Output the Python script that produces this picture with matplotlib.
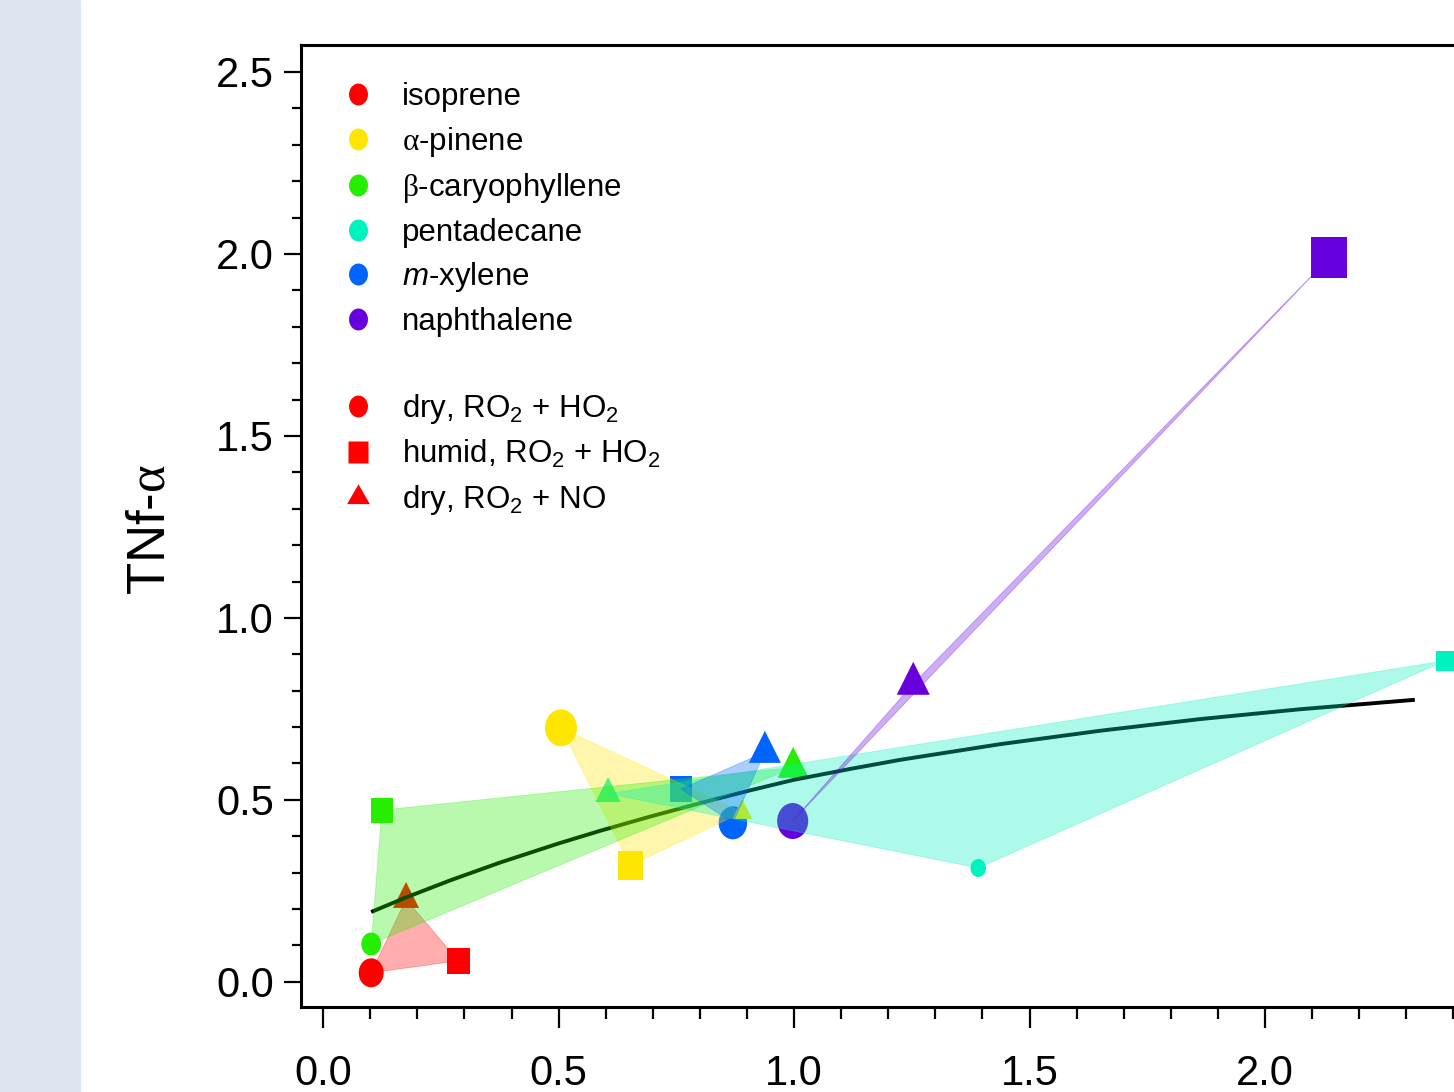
import matplotlib
matplotlib.use('Agg')
import matplotlib.pyplot as plt
import matplotlib.ticker as mticker
import matplotlib.font_manager as fm
from matplotlib.markers import MarkerStyle
from matplotlib.path import Path
from matplotlib.lines import Line2D
from matplotlib.patches import Polygon, Rectangle

# compounds and their colours
compounds = ['isoprene', r'$\mathcal{\alpha}$-pinene', r'$\mathcal{\beta}$-caryophyllene',
             'pentadecane', r'$\mathit{m}$-xylene', 'naphthalene']
colors = ['#ff0000', '#ffe600', '#26ee00', '#00f2be', '#0064ff', '#6600dd']
conditions = [r'dry, RO$_2$ + HO$_2$', r'humid, RO$_2$ + HO$_2$', r'dry, RO$_2$ + NO']

# dry, RO2 + HO2 (circles)
x_dry_ho2 = [0.102, 0.505, 0.102, 1.391, 0.870, 0.997]
y_dry_ho2 = [0.025, 0.698, 0.104, 0.313, 0.437, 0.442]
# humid, RO2 + HO2 (squares)
x_hum_ho2 = [0.287, 0.652, 0.125, 2.382, 0.760, 2.136]
y_hum_ho2 = [0.058, 0.319, 0.472, 0.882, 0.530, 1.989]
# dry, RO2 + NO (triangles)
x_dry_no = [0.176, 0.890, 0.998, 0.605, 0.938, 1.253]
y_dry_no = [0.227, 0.466, 0.589, 0.517, 0.631, 0.819]

# fitted curve
fit_x = [0.102, 0.176, 0.270, 0.376, 0.499, 0.588, 0.694, 0.800, 0.906, 0.999,
         1.119, 1.225, 1.437, 1.650, 1.862, 2.074, 2.318]
fit_y = [0.192, 0.232, 0.279, 0.328, 0.380, 0.415, 0.454, 0.491, 0.526, 0.555,
         0.585, 0.610, 0.653, 0.690, 0.722, 0.749, 0.775]

# marker heights (px) per point
h_dry_ho2 = [29, 37, 23, 18, 33, 36]
h_hum_ho2 = [26, 29, 25, 20, 26, 41]
h_dry_no = [26, 20, 31, 25, 32, 33]

names = {f.name for f in fm.fontManager.ttflist}
narrow = 'Liberation Sans Narrow' in names
base = 'Liberation Sans Narrow' if narrow else 'Liberation Sans'
tick_fs = 33 if narrow else 30
leg_fs = 24 if narrow else 22.5

plt.rcParams['font.family'] = [base, 'Liberation Sans', 'DejaVu Sans']
plt.rcParams['mathtext.fontset'] = 'custom'
plt.rcParams['mathtext.rm'] = base
plt.rcParams['mathtext.it'] = base + ':italic'
plt.rcParams['mathtext.cal'] = 'Liberation Serif'


def tall(m, k=1.16):
    ms = MarkerStyle(m)
    p = ms.get_path().transformed(ms.get_transform())
    return MarkerStyle(Path(p.vertices * [1, k], p.codes))


def tri(w=1.0):
    # triangle centred on its centroid
    verts = [(0, 2 / 3), (-w / 2, -1 / 3), (w / 2, -1 / 3), (0, 2 / 3)]
    codes = [Path.MOVETO, Path.LINETO, Path.LINETO, Path.CLOSEPOLY]
    return MarkerStyle(Path(verts, codes))


def sz(h, f=1.0):
    return [(v * 0.72 * f) ** 2 for v in h]


fig = plt.figure(figsize=(14.54, 10.92), dpi=100)
fig.add_artist(Rectangle((0, 0), 80 / 1454, 1, transform=fig.transFigure,
                         color='#dce6f1', zorder=0))
ax = fig.add_axes([301 / 1454, 85 / 1092, 1176 / 1454, 962 / 1092])

ax.scatter(x_hum_ho2, y_hum_ho2, s=sz(h_hum_ho2), c=colors, marker=tall('s'),
           linewidths=0, zorder=2.0)
ax.scatter(x_dry_ho2, y_dry_ho2, s=sz(h_dry_ho2), c=colors, marker=tall('o'),
           linewidths=0, zorder=2.1)
ax.scatter(x_dry_no, y_dry_no, s=sz(h_dry_no, 1 / 0.75), c=colors, marker=tri(),
           linewidths=0, zorder=2.2)

ax.plot(fit_x, fit_y, color='black', lw=2.8, zorder=2.5, solid_capstyle='butt')

for i, c in enumerate(colors):
    pts = [(x_dry_ho2[i], y_dry_ho2[i]), (x_hum_ho2[i], y_hum_ho2[i]),
           (x_dry_no[i], y_dry_no[i])]
    ax.add_patch(Polygon(pts, closed=True, fc=c, ec=c, lw=0.6, alpha=0.32, zorder=3))

ax.set_xlim(-0.047, 2.45)
ax.set_ylim(-0.069, 2.574)
ax.xaxis.set_major_locator(mticker.MultipleLocator(0.5))
ax.xaxis.set_minor_locator(mticker.MultipleLocator(0.1))
ax.yaxis.set_major_locator(mticker.MultipleLocator(0.5))
ax.yaxis.set_minor_locator(mticker.MultipleLocator(0.1))
ax.xaxis.set_major_formatter(mticker.FormatStrFormatter('%.1f'))
ax.yaxis.set_major_formatter(mticker.FormatStrFormatter('%.1f'))

for s in ax.spines.values():
    s.set_linewidth(2.2)
ax.tick_params(axis='both', which='both', direction='out', width=1.6, labelsize=tick_fs)
ax.tick_params(axis='y', which='major', length=12.5, pad=7)
ax.tick_params(axis='y', which='minor', length=6.5)
ax.tick_params(axis='x', which='major', length=15, pad=19)
ax.tick_params(axis='x', which='minor', length=8.5)

ax.set_ylabel(r'TNf-$\mathcal{\alpha}$', fontsize=38, family='Liberation Sans')
ax.yaxis.set_label_coords(-0.107, 0.496)

handles = [Line2D([], [], ls='none', marker=tall('o'), ms=15.8, mfc=c, mec='none')
           for c in colors]
handles.append(Line2D([], [], ls='none'))
handles.append(Line2D([], [], ls='none', marker=tall('o'), ms=15.8, mfc=colors[0], mec='none'))
handles.append(Line2D([], [], ls='none', marker=tall('s'), ms=16.5, mfc=colors[0], mec='none'))
handles.append(Line2D([], [], ls='none', marker=tri(1.15), ms=19, mfc=colors[0], mec='none'))
labels = compounds + [' '] + conditions
ax.legend(handles, labels, loc='upper left', bbox_to_anchor=(0.035, 0.9615),
          frameon=False, fontsize=leg_fs, handlelength=1.0, handletextpad=0.9,
          labelspacing=0.4, borderaxespad=0, borderpad=0)

fig.savefig('out.png', dpi=100)
